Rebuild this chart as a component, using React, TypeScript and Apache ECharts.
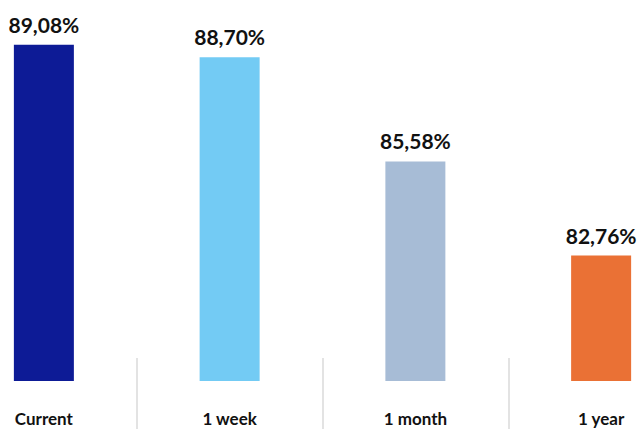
import React, { useEffect, useRef } from "react";
import * as echarts from "echarts";

const categories = ["Current", "1 week", "1 month", "1 year"];
const values = [89.08, 88.7, 85.58, 82.76];
const barColors = ["#0d1b96", "#73cbf4", "#a7bcd6", "#ea7135"];
const yMin = 79;
const yMax = 90;

export default function App() {
  const ref = useRef<HTMLDivElement>(null);
  useEffect(() => {
    if (!ref.current) return;
    const chart = echarts.init(ref.current, null, { renderer: "svg" });
    chart.setOption({
      animation: false,
      backgroundColor: "#ffffff",
      grid: { left: 0, right: 0, top: 14, bottom: 48 },
      xAxis: {
        type: "category",
        data: categories,
        offset: -23,
        axisLine: { show: false },
        axisTick: {
          show: true,
          length: 80,
          lineStyle: { color: "#dadada", width: 1.5 },
        },
        axisLabel: {
          margin: 52,
          fontFamily: "Lato",
          fontWeight: "bold",
          fontSize: 17,
          color: "#111111",
        },
      },
      yAxis: {
        type: "value",
        min: yMin,
        max: yMax,
        show: false,
        splitLine: { show: false },
      },
      series: [
        {
          type: "bar",
          barWidth: 60,
          data: values.map((v, i) => ({
            value: v,
            itemStyle: { color: barColors[i] },
          })),
          label: {
            show: true,
            position: "top",
            distance: 10,
            fontFamily: "Lato",
            fontWeight: "bold",
            fontSize: 21,
            color: "#111111",
            formatter: (p: any) => p.value.toFixed(2).replace(".", ",") + "%",
          },
        },
      ],
    });
    return () => chart.dispose();
  }, []);
  return (
    <div
      style={{
        position: "fixed",
        left: 0,
        top: 0,
        width: 638,
        height: 429,
        overflow: "hidden",
        background: "#ffffff",
      }}
    >
      <div
        ref={ref}
        style={{ position: "absolute", left: -49, top: 0, width: 743, height: 429 }}
      />
    </div>
  );
}
